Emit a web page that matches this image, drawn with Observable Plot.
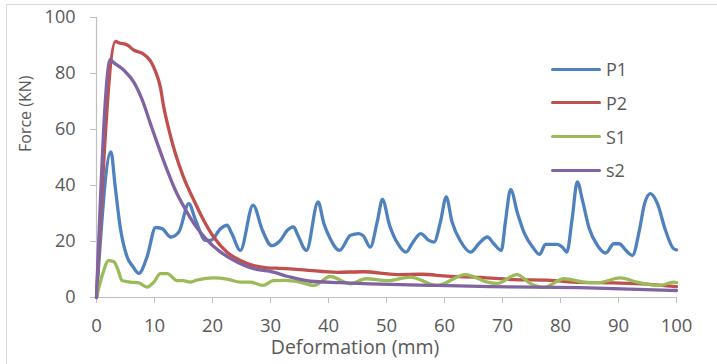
<!DOCTYPE html>
<html><head><meta charset="utf-8">
<script src="https://cdn.jsdelivr.net/npm/d3@7"></script>
<script src="https://cdn.jsdelivr.net/npm/@observablehq/plot@0.6"></script>
<style>
body{margin:0;background:#fff;}
#wrap{position:relative;width:717px;height:364px;overflow:hidden;font-family:"Open Sans",sans-serif;background:#fff;}
#border{position:absolute;left:6px;top:4px;width:800px;height:400px;border:1px solid #d9d9d9;pointer-events:none;}
#chart{position:absolute;left:0;top:0;}
.li{position:absolute;left:551px;height:24px;display:flex;align-items:center;font-size:18px;color:#595959;}
.li span.sw{display:inline-block;width:50px;height:3px;border-radius:2px;margin-right:5px;}
</style></head>
<body>
<div id="wrap"><div id="chart"></div><div id="border"></div></div>
<script>
const seriesNames = ["P1", "P2", "S1", "s2"];
const seriesColors = ["#4F81BD", "#C0504D", "#9BBB59", "#8064A2"];
const xTicks = [0,10,20,30,40,50,60,70,80,90,100];
const yTicks = [0,20,40,60,80,100];
const xTitle = "Deformation (mm)";
const yTitle = "Force (KN)";

const p1X = [0,2.5,3.2,4.1,5.3,6.3,7.3,8.7,10.2,11.3,12.8,14.2,15.9,17.1,18.8,19.7,21.4,22.5,23.3,24.8,27,28.6,30.2,31.7,32.9,34,34.6,36.2,38.2,39.2,40.3,41.9,43.8,45.2,46,47.2,48.4,49.3,50.5,51.9,53.4,54.4,55.9,57.3,58.2,59.3,60.3,61.3,62.8,64.5,65.9,67.4,68.5,69.8,70.5,71.4,72.6,73.8,75.2,76.4,77.4,79.4,80.3,81.1,82,82.9,83.8,84.9,86.4,87.8,89.2,90.1,91.3,92.4,93.6,94.5,95.5,96.7,98.1,99.5,100];
const p1Y = [0,52,40,25,14.4,11,8.6,14.4,25,24.6,21.6,23.4,33.5,27.5,20.4,20.4,24.6,25.8,23,16.8,33,24,18.5,20.4,24,25.2,22.8,16.8,34.1,26.4,21,16.8,22.2,22.8,22,18,27,35,26,19.4,16.2,19.2,22.8,20.4,19.8,27,35.9,27,20,16.2,19.2,21.6,19.2,16.8,27,38.5,30,22.8,18,15.4,19,19,18,16.2,28,41.3,34.6,25,18.5,15.9,19.2,19.2,16.8,15,24,33.6,37.1,33.6,24,17.4,17];

const p2X = [0,3.3,3.8,5.3,6.4,7.9,9.3,10.2,11,11.6,12.5,13.6,15,16.8,18.5,20.2,22.5,24.8,27.1,29.4,31.7,35.7,41.5,46,51.8,56,60.5,66.2,72,77.7,83.4,89.2,94.9,100];
const p2Y = [0,91.5,91,90.2,88.4,87.2,84.5,80.6,75.2,68,59.8,51.4,43,34.7,27.5,21.6,16.2,13.2,11.4,10.6,10.4,9.9,9,9.2,8.2,8.3,7.6,7.2,6.4,6.2,5.4,5.2,4.8,3.9];

const s1X = [0,1,2.1,3,3.6,4.4,5.9,7.3,8.7,9.9,11,12.2,13.9,15,16.1,17.3,20.2,22.5,24.8,26.5,28.7,30.5,32.6,35,37.5,40.3,43.8,46.4,50.2,54.1,58.7,63.6,67.4,69,72.5,74.8,77.1,80.6,84,86.5,90.3,93.2,97.2,99.5,100];
const s1Y = [0,8,13.2,12.8,10.5,6.1,5.5,5.2,3.7,5.5,8.5,8.5,6,6,5.5,6.2,7,6.6,5.5,5.5,4.3,6,6.1,5.5,4.3,7.5,4.9,6.7,6,7.3,4.3,8.2,5.5,5,8.2,5,3.6,6.7,5.5,5.3,7,5.5,4.3,5.5,5.3];

const s2X = [0,2.4,2.8,4.7,6.4,7.9,9.3,10.7,12.2,13.6,15.1,16.8,19.1,21.4,24.3,27.1,30,33,36.9,42,47.2,58.7,67.9,83.4,100];
const s2Y = [0,85,84.2,81.2,77,70.5,62.1,53.8,45.4,38.3,32.3,26.4,20.4,16.2,12.6,10.3,9.3,7.5,5.8,5.3,4.9,4.3,3.9,3.5,2.5];

const allX = [p1X, p2X, s1X, s2X];
const allY = [p1Y, p2Y, s1Y, s2Y];
const data = [];
allX.forEach((xs, i) => xs.forEach((x, j) => data.push({series: seriesNames[i], x, y: allY[i][j]})));

const plot = Plot.plot({
  width: 717, height: 364,
  marginLeft: 96, marginRight: 41, marginTop: 17, marginBottom: 67,
  x: {domain: [0, 100]},
  y: {domain: [0, 100]},
  color: {domain: seriesNames, range: seriesColors},
  style: {fontFamily: '"Open Sans", sans-serif', fontSize: "18px", color: "#595959", background: "transparent"},
  marks: [
    Plot.axisX({ticks: xTicks, tickSize: 6, tickPadding: 15, stroke: "#bfbfbf", fill: "#595959", fontSize: 18.5, label: null, tickFormat: d => String(d)}),
    Plot.axisY({ticks: yTicks, tickSize: 6, tickPadding: 15, stroke: "#bfbfbf", fill: "#595959", fontSize: 18, label: null, tickFormat: d => String(d)}),
    Plot.ruleY([0], {stroke: "#bfbfbf", strokeWidth: 1.2}),
    Plot.ruleX([0], {stroke: "#bfbfbf", strokeWidth: 1.2}),
    Plot.line(data, {x: "x", y: "y", z: "series", stroke: "series", strokeWidth: 3.3, curve: "monotone-x", strokeLinejoin: "round", strokeLinecap: "round"}),
    Plot.text([xTitle], {frameAnchor: "bottom", text: d => d, lineAnchor: "middle", dx: -31.5, dy: 50.5, fill: "#595959", fontSize: 19.5}),
    Plot.text([yTitle], {frameAnchor: "left", text: d => d, rotate: -90, lineAnchor: "middle", dx: -71, dy: -5.5, fill: "#595959", fontSize: 16})
  ]
});
document.getElementById("chart").appendChild(plot);

const wrap = document.getElementById("wrap");
seriesNames.forEach((name, i) => {
  const d = document.createElement("div");
  d.className = "li";
  d.style.top = (69.3 + i * 33.6 - 12) + "px";
  const sw = document.createElement("span");
  sw.className = "sw";
  sw.style.background = seriesColors[i];
  d.appendChild(sw);
  d.appendChild(document.createTextNode(name));
  wrap.appendChild(d);
});
</script>
</body></html>
